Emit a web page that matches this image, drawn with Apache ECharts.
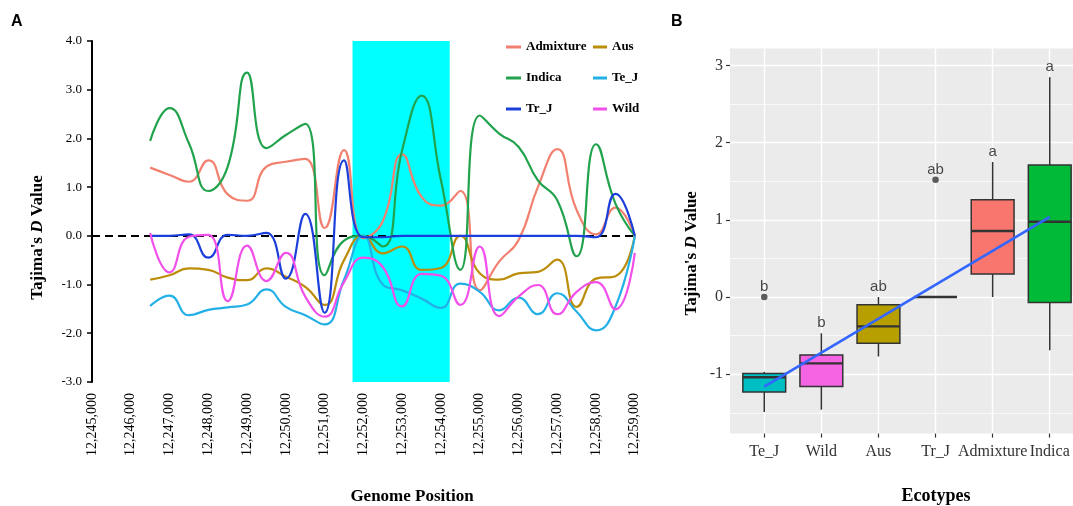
<!DOCTYPE html>
<html>
<head>
<meta charset="utf-8">
<title>Tajima's D</title>
<script src="https://cdn.jsdelivr.net/npm/echarts@6/dist/echarts.min.js"></script>
<style>
html, body { margin: 0; padding: 0; background: #fff; }
#main { width: 1073px; height: 506px; }
</style>
</head>
<body>
<div id="main"></div>
<script>
// A: sliding window Tajima's D along the region
var positions = [12246500, 12247000, 12247500, 12248000, 12248500, 12249000, 12249500,
    12250000, 12250500, 12251000, 12251500, 12252000, 12252500, 12253000, 12253500,
    12254000, 12254500, 12255000, 12255500, 12256000, 12256500, 12257000, 12257500,
    12258000, 12258500, 12259000];
var admixture = [1.40, 1.25, 1.11, 1.55, 0.85, 0.72, 1.42, 1.52, 1.58, 0.16, 1.76, -0.05, 0.30,
    1.67, 0.80, 0.62, 0.92, -1.12, -0.53, -0.09, 1.00, 1.78, 0.53, 0.03, 0.58, 0.00];
var aus = [-0.90, -0.81, -0.67, -0.70, -0.86, -0.91, -0.67, -0.84, -1.05, -1.42, -0.50, 0.00, -0.36,
    -0.22, -0.70, -0.66, 0.00, -0.77, -0.90, -0.77, -0.74, -0.49, -1.46, -0.88, -0.83, 0.00];
var indica = [1.95, 2.62, 1.90, 0.92, 1.42, 3.35, 1.80, 2.07, 2.30, -0.81, -0.10, 0.00, -0.22,
    1.76, 2.88, 1.14, -0.70, 2.47, 2.10, 1.83, 1.14, 0.73, -0.42, 1.88, 0.66, 0.00];
var teJ = [-1.44, -1.23, -1.63, -1.52, -1.47, -1.41, -1.10, -1.46, -1.63, -1.82, -0.90, 0.00, -1.00,
    -1.12, -1.29, -1.48, -0.98, -1.15, -1.53, -1.27, -1.61, -1.18, -1.56, -1.94, -1.46, 0.00];
var trJ = [0.00, 0.00, 0.03, -0.45, 0.02, 0.00, 0.06, -0.88, 0.45, -1.58, 1.55, -0.03, -0.03,
    0.00, 0.00, 0.00, 0.00, 0.00, 0.00, 0.00, 0.00, 0.00, 0.00, -0.03, 0.86, 0.00];
var wild = [0.06, -0.75, -0.02, 0.02, -1.34, -0.20, -0.93, -0.35, -1.25, -1.66, -0.95, -0.45, -0.64,
    -1.45, -0.78, -0.82, -1.42, -0.22, -1.65, -1.25, -1.01, -1.61, -1.15, -0.95, -1.51, -0.35];
var highlightStart = 12251720;
var highlightEnd = 12254226;

// B: distribution per ecotype  [min, Q1, median, Q3, max]
var ecotypes = ['Te_J', 'Wild', 'Aus', 'Tr_J', 'Admixture', 'Indica'];
var boxStats = [
    [-1.49, -1.23, -1.04, -0.99, -0.97],
    [-1.46, -1.16, -0.86, -0.75, -0.47],
    [-0.77, -0.60, -0.38, -0.10, 0.00],
    [0.00, 0.00, 0.00, 0.00, 0.00],
    [0.00, 0.30, 0.855, 1.26, 1.75],
    [-0.69, -0.07, 0.976, 1.71, 2.85]
];
var boxColors = ['#00BFC4', '#F564E3', '#B79F00', '#619CFF', '#F8766D', '#00BA38'];
var outliers = [[0, 0.00], [3, 1.52]];
var groupLetters = ['b', 'b', 'ab', 'ab', 'a', 'a'];
var letterY = [0.134, -0.333, 0.134, 1.646, 1.879, 2.985];
var trendLine = [[0, -1.16], [5, 1.04]];
var yTicksB = [-1, 0, 1, 2, 3];
var minorB = [-1.5, -0.5, 0.5, 1.5, 2.5];

var serif = 'Liberation Serif';
var sans = 'Liberation Sans';

function pairs(ys) {
    return positions.map(function (p, i) { return [p, ys[i]]; });
}

function lineSeries(name, ys, color) {
    return {
        name: name, type: 'line', xAxisIndex: 0, yAxisIndex: 0,
        data: pairs(ys), smooth: 0.5, symbol: 'none', z: 3,
        itemStyle: { color: color },
        lineStyle: { color: color, width: 2.2 }
    };
}

function renderBox(params, api) {
    var x = api.value(0);
    var half = api.size([0.75, 0])[0] / 2;
    var pMin = api.coord([x, api.value(1)]);
    var pQ1 = api.coord([x, api.value(2)]);
    var pMed = api.coord([x, api.value(3)]);
    var pQ3 = api.coord([x, api.value(4)]);
    var pMax = api.coord([x, api.value(5)]);
    var edge = { stroke: '#333333', lineWidth: 1.5 };
    return {
        type: 'group',
        children: [
            { type: 'line', shape: { x1: pMax[0], y1: pMax[1], x2: pQ3[0], y2: pQ3[1] }, style: edge },
            { type: 'line', shape: { x1: pQ1[0], y1: pQ1[1], x2: pMin[0], y2: pMin[1] }, style: edge },
            { type: 'rect', shape: { x: pQ3[0] - half, y: pQ3[1], width: half * 2, height: pQ1[1] - pQ3[1] },
              style: { fill: boxColors[params.dataIndex], stroke: '#333333', lineWidth: 1.5 } },
            { type: 'line', shape: { x1: pMed[0] - half, y1: pMed[1], x2: pMed[0] + half, y2: pMed[1] },
              style: { stroke: '#333333', lineWidth: 2.4 } }
        ]
    };
}

var legendText = { fontFamily: serif, fontWeight: 'bold', fontSize: 13, color: '#000', lineHeight: 14 };

var option = {
    animation: false,
    backgroundColor: '#ffffff',
    grid: [
        { left: 92, top: 41, width: 542.8, height: 340.9, outerBoundsMode: 'none' },
        { left: 730, top: 48.6, width: 354, height: 385, outerBoundsMode: 'none',
          show: true, backgroundColor: '#EBEBEB', borderWidth: 0 }
    ],
    legend: [
        { data: ['Admixture', 'Indica', 'Tr_J'], orient: 'vertical', left: 506, top: 40, padding: 0,
          icon: 'rect', itemWidth: 15, itemHeight: 3, itemGap: 17, textStyle: legendText },
        { data: ['Aus', 'Te_J', 'Wild'], orient: 'vertical', left: 593, top: 40, padding: 0,
          icon: 'rect', itemWidth: 14, itemHeight: 3, itemGap: 17, textStyle: legendText }
    ],
    xAxis: [
        {
            type: 'value', gridIndex: 0, min: 12245000, max: 12259000, interval: 1000,
            axisLine: { show: false, onZero: false }, axisTick: { show: false }, splitLine: { show: false },
            axisLabel: {
                rotate: 90, margin: 11, fontSize: 14, fontFamily: serif, color: '#000',
                showMinLabel: true, showMaxLabel: true,
                formatter: function (v) { return v.toLocaleString('en-US'); }
            }
        },
        {
            type: 'value', gridIndex: 1, min: -0.6, max: 5.6,
            axisLine: { show: false, onZero: false },
            axisTick: { show: true, length: 4, customValues: [0, 1, 2, 3, 4, 5],
                        lineStyle: { color: '#333333', width: 1.2 } },
            axisLabel: {
                customValues: [0, 1, 2, 3, 4, 5], margin: 10, fontSize: 16, fontFamily: serif, color: '#333333',
                formatter: function (v) { return ecotypes[v] || ''; }
            },
            splitLine: { show: true, lineStyle: { color: '#ffffff', width: 1.4 } }
        }
    ],
    yAxis: [
        {
            type: 'value', gridIndex: 0, min: -3, max: 4, interval: 1,
            axisLine: { show: true, onZero: false, lineStyle: { color: '#000', width: 2 } },
            axisTick: { show: true, length: 5, lineStyle: { color: '#000', width: 1.5 } },
            axisLabel: { margin: 10, fontSize: 13, fontFamily: serif, color: '#000',
                         formatter: function (v) { return v.toFixed(1); } },
            splitLine: { show: false }
        },
        {
            type: 'value', gridIndex: 1, min: -1.77, max: 3.22,
            axisLine: { show: false, onZero: false },
            axisTick: { show: true, length: 4, customValues: yTicksB,
                        lineStyle: { color: '#333333', width: 1.2 } },
            axisLabel: { customValues: yTicksB, margin: 7, fontSize: 16, fontFamily: serif, color: '#333333',
                         formatter: function (v) { return Number.isInteger(v) ? String(v) : ''; } },
            splitLine: { show: true, lineStyle: { color: '#ffffff', width: 1.4 } }
        }
    ],
    series: [
        // highlighted window
        {
            name: 'window', type: 'line', xAxisIndex: 0, yAxisIndex: 0, data: [], z: 1,
            markArea: { silent: true, z: 1, itemStyle: { color: '#00FFFF', opacity: 1 },
                        data: [[{ xAxis: highlightStart }, { xAxis: highlightEnd }]] }
        },
        // zero reference
        {
            name: 'zero', type: 'line', xAxisIndex: 0, yAxisIndex: 0, data: [], z: 2,
            markLine: { silent: true, z: 2, symbol: 'none', label: { show: false },
                        lineStyle: { color: '#000', width: 2.2, type: [8, 5] },
                        data: [{ yAxis: 0 }] }
        },
        lineSeries('Admixture', admixture, '#F2806F'),
        lineSeries('Aus', aus, '#BC8D0B'),
        lineSeries('Indica', indica, '#21A24C'),
        lineSeries('Te_J', teJ, '#22B0E6'),
        lineSeries('Tr_J', trJ, '#1B3FDA'),
        lineSeries('Wild', wild, '#F24FEA'),

        // panel B minor grid
        {
            name: 'minor', type: 'line', xAxisIndex: 1, yAxisIndex: 1, data: [], z: 1,
            markLine: { silent: true, z: 1, symbol: 'none', label: { show: false },
                        lineStyle: { color: '#ffffff', width: 0.7, type: 'solid' },
                        data: minorB.map(function (v) { return { yAxis: v }; }) }
        },
        {
            name: 'boxes', type: 'custom', xAxisIndex: 1, yAxisIndex: 1, z: 2,
            data: ecotypes.map(function (n, i) { return [i].concat(boxStats[i]); }),
            encode: { x: 0, y: [1, 2, 3, 4, 5] },
            renderItem: renderBox
        },
        {
            name: 'outliers', type: 'scatter', xAxisIndex: 1, yAxisIndex: 1, z: 3,
            data: outliers, symbolSize: 6.5, itemStyle: { color: '#333333' }
        },
        {
            name: 'trend', type: 'line', xAxisIndex: 1, yAxisIndex: 1, z: 4,
            data: trendLine, symbol: 'none', lineStyle: { color: '#3366FF', width: 2.6 }
        },
        {
            name: 'letters', type: 'scatter', xAxisIndex: 1, yAxisIndex: 1, z: 5,
            data: groupLetters.map(function (t, i) { return [i, letterY[i], t]; }),
            symbolSize: 0,
            label: { show: true, position: 'inside', fontSize: 15, fontFamily: sans, color: '#1a1a1a',
                     formatter: function (p) { return p.data[2]; } }
        }
    ],
    graphic: [
        { type: 'text', x: 11, y: 14, style: { text: 'A', font: 'bold 16px "Liberation Sans"', fill: '#000' } },
        { type: 'text', x: 671, y: 14, style: { text: 'B', font: 'bold 16px "Liberation Sans"', fill: '#000' } },
        { type: 'text', x: 38, y: 237.5, rotation: Math.PI / 2,
          style: { text: "Tajima's {i|D} Value", font: 'bold 17px "Liberation Serif"', fill: '#000',
                   textAlign: 'center', textVerticalAlign: 'middle',
                   rich: { i: { fontFamily: serif, fontWeight: 'bold', fontStyle: 'italic', fontSize: 17 } } } },
        { type: 'text', x: 412, y: 497,
          style: { text: 'Genome Position', font: 'bold 17px "Liberation Serif"', fill: '#000',
                   textAlign: 'center', textVerticalAlign: 'middle' } },
        { type: 'text', x: 691.5, y: 253.3, rotation: Math.PI / 2,
          style: { text: "Tajima's {i|D} Value", font: 'bold 17px "Liberation Serif"', fill: '#000',
                   textAlign: 'center', textVerticalAlign: 'middle',
                   rich: { i: { fontFamily: serif, fontWeight: 'bold', fontStyle: 'italic', fontSize: 17 } } } },
        { type: 'text', x: 936, y: 496.7,
          style: { text: 'Ecotypes', font: 'bold 18px "Liberation Serif"', fill: '#000',
                   textAlign: 'center', textVerticalAlign: 'middle' } }
    ]
};

var chart = echarts.init(document.getElementById('main'), null, { renderer: 'canvas' });
chart.setOption(option);
</script>
</body>
</html>
